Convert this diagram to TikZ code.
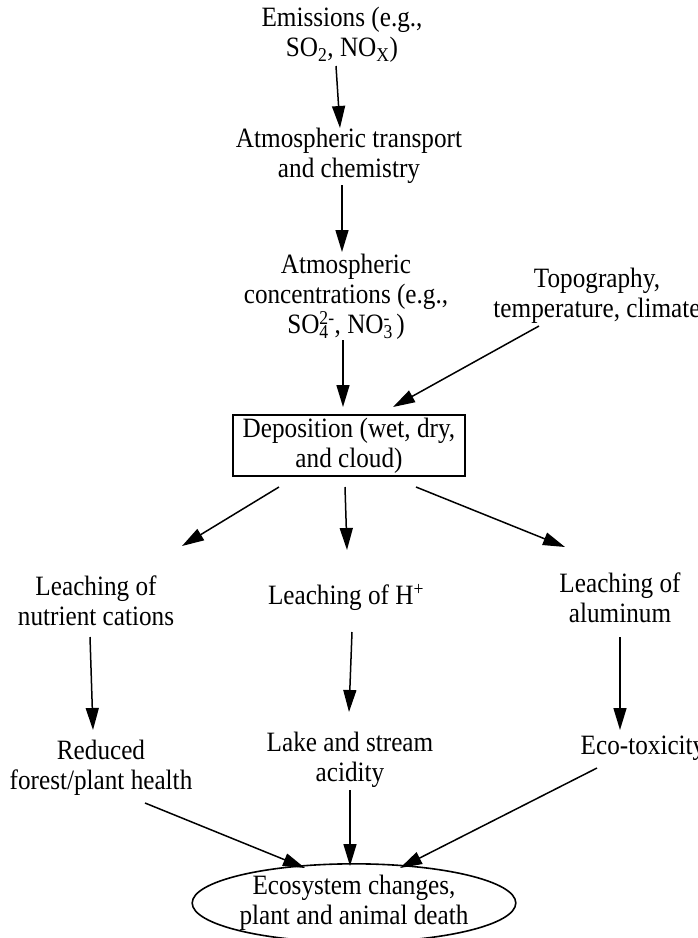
\documentclass[tikz,border=0pt]{standalone}
\usepackage{fontspec}
\setmainfont{Liberation Serif}[FakeStretch=0.9]
\usetikzlibrary{arrows.meta,shapes.geometric,calc}

\begin{document}
\begin{tikzpicture}[x=1pt,y=-1pt,
  label/.style={align=center,inner sep=0pt,font=\fontsize{28}{30}\selectfont},
  flow/.style={line width=1.5pt,-{Triangle[length=22pt,width=13pt]}},
  boxed/.style={label,draw,line width=1.6pt,minimum width=232pt,minimum height=61pt},
  oval/.style={label,draw,ellipse,line width=1.6pt,minimum width=282pt,minimum height=74pt,inner sep=0pt}
]
\useasboundingbox (0,0) rectangle (698,938);

% upper chain
\node[label] (emis) at (342,35) {Emissions (e.g.,\\SO\textsubscript{2}, NO\textsubscript{X})};
\node[label] (trans) at (349,155.5) {Atmospheric transport\\and chemistry};
\node[label] (conc) at (346,297) {Atmospheric\\concentrations (e.g.,\\SO\rlap{\textsubscript{4}}\textsuperscript{2-}, NO\rlap{\textsubscript{3}}\textsuperscript{-} )};
\node[label] (topo) at (597,296) {Topography,\\temperature, climate};

% deposition
\node[boxed] (dep) at (349,445.5) {Deposition (wet, dry,\\and cloud)};

% leaching
\node[label] (lcat) at (96,601) {Leaching of\\nutrient cations};
\node[label] (lh) at (346,597) {Leaching of H\textsuperscript{+}};
\node[label] (lal) at (620,598) {Leaching of\\aluminum};

% effects
\node[label] (forest) at (101,767.5) {Reduced\\forest/plant health};
\node[label] (lake) at (350,760) {Lake and stream\\acidity};
\node[label] (tox) at (643,748) {Eco-toxicity};

% outcome
\node[oval] (eco) at (354,903) {Ecosystem changes,\\plant and animal death};

% connectors
\draw[flow] ($(emis.center)+(-6,31)$) -- ($(trans.center)+(-9,-27.5)$);
\draw[flow] ($(trans.center)+(-7,29.5)$) -- ($(conc.center)+(-4,-45)$);
\draw[flow] ($(conc.center)+(-3,43)$) -- ($(dep.center)+(-6,-38.5)$);
\draw[flow] ($(topo.center)+(-58,30)$) -- ($(dep.center)+(44,-38.5)$);

\draw[flow] ($(dep.center)+(-70,41.5)$) -- ($(lcat.center)+(86,-55)$);
\draw[flow] ($(dep.center)+(-4,41.5)$) -- ($(lh.center)+(1,-47)$);
\draw[flow] ($(dep.center)+(67,41.5)$) -- ($(lal.center)+(-55,-51)$);

\draw[flow] ($(lcat.center)+(-6,36)$) -- ($(forest.center)+(-8,-37.5)$);
\draw[flow] ($(lh.center)+(6,35)$) -- ($(lake.center)+(-1,-48)$);
\draw[flow] ($(lal.center)+(0,39)$) -- ($(tox.center)+(-23,-18)$);

\draw[flow] ($(forest.center)+(44,35.5)$) -- ($(eco.center)+(-49,-35)$);
\draw[flow] ($(lake.center)+(0,30)$) -- ($(eco.center)+(-4,-37)$);
\draw[flow] ($(tox.center)+(-46,20)$) -- ($(eco.center)+(46,-35)$);
\end{tikzpicture}
\end{document}
